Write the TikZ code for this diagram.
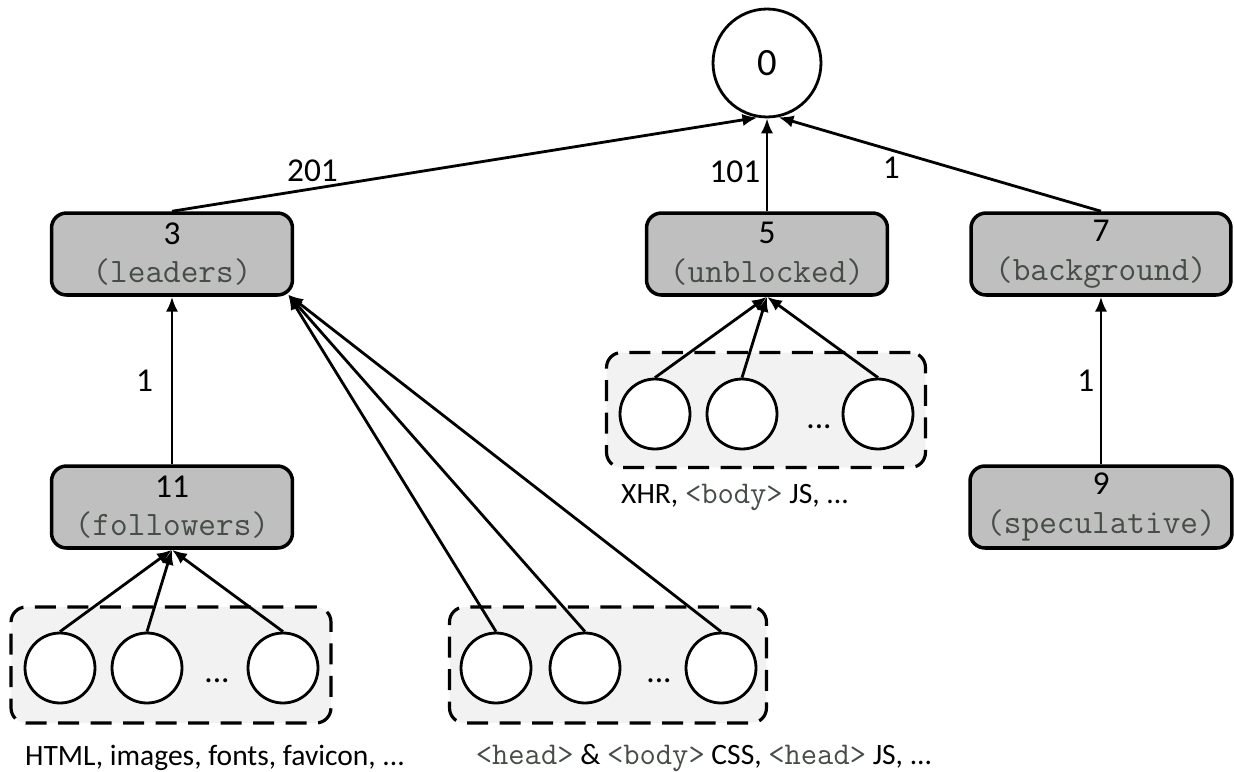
\documentclass[tikz,border=0pt]{standalone}
\usepackage{fontspec}
\setmainfont{Carlito}
\usepackage{tikz}
\usetikzlibrary{arrows.meta,positioning,shapes.geometric}
\definecolor{boxgray}{RGB}{191,191,191}
\definecolor{grpgray}{RGB}{242,242,242}
\definecolor{codegray}{RGB}{70,76,70}

\newcommand{\prioname}[1]{{\fontsize{19.5}{20}\selectfont\ttfamily\color{codegray}#1}}
\newcommand{\tagname}[1]{{\fontsize{18}{18}\selectfont\ttfamily\color{codegray}#1}}

\begin{document}
\begin{tikzpicture}[
    x=0.02cm, y=-0.02cm,
    >={Latex[length=8.5pt,width=7pt]},
    font=\fontsize{19}{22}\selectfont,
    prio/.style={
		rectangle,
		rounded corners=0.3cm,
		draw=black,
		line width=2pt,
		fill=boxgray,
		align=center,
		minimum width=4.82cm,
		minimum height=1.64cm,
		inner sep=1pt
	},
	root/.style={
		circle,
		draw=black,
		line width=1.6pt,
		minimum size=2.16cm,
		fill=white,
		font=\fontsize{22}{26}\selectfont
	},
	req/.style={
		ellipse,
		draw=black,
		line width=1.6pt,
		minimum width=1.4cm,
		minimum height=1.4cm,
		fill=white
	},
	group/.style={
		rectangle,
		rounded corners=0.3cm,
		draw=black,
		dash pattern=on 12pt off 6.5pt,
		line width=1.8pt,
		fill=grpgray,
		minimum width=6.4cm,
		minimum height=2.32cm
	},
	edge/.style={
		->,
		line width=1.6pt
	},
	weight/.style={
		inner sep=3pt
	},
	caption/.style={
		anchor=base,
		font=\fontsize{16.8}{18}\selectfont
	}
  ]
    \useasboundingbox (0,0) rectangle (1234,771);

    % the tree of priorities
    \node [root] (root) at (767,63) {0};

    \node [prio] (leaders) at (172,254) {3\\\prioname{(leaders)}};
    \node [prio] (unblocked) at (767,254) {5\\\prioname{(unblocked)}};
    \node [prio, minimum width=5.2cm] (background) at (1101,254) {7\\\prioname{(background)}};
    \node [prio] (followers) at (172,507) {11\\\prioname{(followers)}};
    \node [prio, minimum width=5.24cm] (speculative) at (1101,507) {9\\\prioname{(speculative)}};

    % groups of requests
    \node [group] (grpfol) at (171,665) {};
    \node [group, minimum width=6.34cm] (grplead) at (608,665) {};
    \node [group, minimum width=6.38cm, minimum height=2.3cm] (grpunbl) at (766,410) {};

    \node [req] (fol1) at (60,668) {};
    \node [req] (fol2) at (147,668) {};
    \node [anchor=base] (foldots) at (217,682) {...};
    \node [req] (fol3) at (283,668) {};

    \node [req] (lead1) at (496,668) {};
    \node [req] (lead2) at (585,668) {};
    \node [anchor=base] (leaddots) at (659,682) {...};
    \node [req] (lead3) at (721,668) {};

    \node [req] (unbl1) at (655,414) {};
    \node [req] (unbl2) at (742,414) {};
    \node [anchor=base] (unbldots) at (819,428) {...};
    \node [req] (unbl3) at (878,414) {};

    \node [caption] (capfol) at (215,765) {HTML, images, fonts, favicon, ...};
    \node [caption] (caplead) at (704,764) {\tagname{<head>} \& \tagname{<body>} CSS, \tagname{<head>} JS, ...};
    \node [caption] (capunbl) at (735,503) {XHR, \tagname{<body>} JS, ...};

    % dependencies
    \draw [edge] (leaders.north) -- node [weight, pos=0.24, above] {201} (root.-100);
    \draw [edge] (unblocked.north) -- node [weight, pos=0.43, left] {101} (root.south);
    \draw [edge] (background.north) -- node [weight, pos=0.65, below] {1} (root.-78);
    \draw [edge] (followers.north) -- node [weight, left=7pt] {1} (leaders.south);
    \draw [edge] (speculative.north) -- node [weight, left] {1} (background.south);

    \foreach \r in {fol1,fol2,fol3}
      \draw [edge] (\r.north) -- (followers.south);
    \foreach \r in {lead1,lead2,lead3}
      \draw [edge] (\r.north) -- ([xshift=-0.12cm,yshift=0.04cm]leaders.south east);
    \foreach \r in {unbl1,unbl2,unbl3}
      \draw [edge] (\r.north) -- (unblocked.south);

\end{tikzpicture}
\end{document}
